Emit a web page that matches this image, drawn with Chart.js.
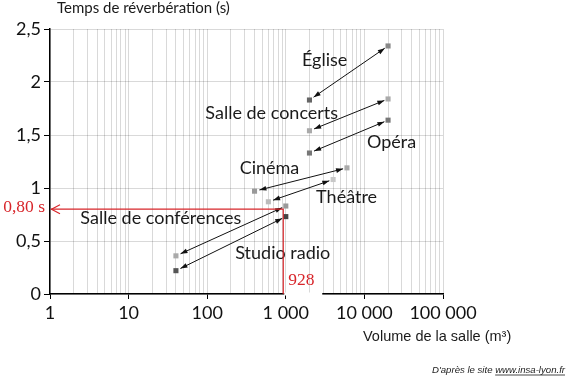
<!DOCTYPE html>
<html><head><meta charset="utf-8">
<script src="https://cdn.jsdelivr.net/npm/chart.js@4"></script>
<style>html,body{margin:0;padding:0;background:#fff}#wrap{width:568px;height:383px;position:relative}</style>
</head><body><div id="wrap"><canvas id="c"></canvas></div>
<script>
// ---- data ----
const rooms = ["Église","Salle de concerts","Opéra","Cinéma","Théâtre","Salle de conférences","Studio radio"];
const volumeMin = [2000,2000,2000,400,600,40,40];
const volumeMax = [20000,20000,20000,6000,4000,1000,1000];
const timeMin = [1.83,1.54,1.33,0.97,0.87,0.36,0.22];
const timeMax = [2.34,1.84,1.64,1.19,1.08,0.83,0.73];
const xTickValues = [1,10,100,1000,10000,100000];
const xTickLabels = ["1","10","100","1 000","10 000","100 000"];
const yTickValues = [0,0.5,1,1.5,2,2.5];
const yTickLabels = ["0","0,5","1","1,5","2","2,5"];
const refVolume = 928;
const refTime = 0.80;
const refVolumeLabel = "928";
const refTimeLabel = "0,80 s";
const yTitle = "Temps de réverbération (s)";
const xTitle = "Volume de la salle (m³)";
const sourcePrefix = "D'après le site ";
const sourceUrl = "www.insa-lyon.fr";
// label anchors (data coordinates: volume, time at baseline)
const labelVolume = [3120,662,22180,620,5940,25.7,914];
const labelTime = [2.154,1.648,1.375,1.132,0.856,0.66,0.33];

// ---- styles ----
const colorMin = ["#666","#aaa","#777","#999","#bbb","#aaa","#555"];
const colorMax = ["#888","#aaa","#777","#aaa","#c8c8c8","#999","#444"];
const RED = "#d8262b";

function arrowHead(ctx, tx, ty, ux, uy){
  const L = 7, W = 2.4;
  ctx.beginPath();
  ctx.moveTo(tx, ty);
  ctx.lineTo(tx - ux*L - uy*W, ty - uy*L + ux*W);
  ctx.lineTo(tx - ux*L + uy*W, ty - uy*L - ux*W);
  ctx.closePath();
  ctx.fill();
}

const annot = {
  id: 'annot',
  afterDatasetsDraw(chart){
    const ctx = chart.ctx, xs = chart.scales.x, ys = chart.scales.y;
    ctx.save();
    ctx.strokeStyle = '#111'; ctx.fillStyle = '#111'; ctx.lineWidth = 1;
    for (let i = 0; i < rooms.length; i++){
      const x1 = xs.getPixelForValue(volumeMax[i]), y1 = ys.getPixelForValue(timeMax[i]);
      const x2 = xs.getPixelForValue(volumeMin[i]), y2 = ys.getPixelForValue(timeMin[i]);
      const dx = x2-x1, dy = y2-y1, L = Math.hypot(dx,dy), ux = dx/L, uy = dy/L;
      const s1 = 4, s2 = 5;
      const ax = x1+ux*s1, ay = y1+uy*s1, bx = x2-ux*s2, by = y2-uy*s2;
      ctx.beginPath(); ctx.moveTo(ax, ay); ctx.lineTo(bx, by); ctx.stroke();
      arrowHead(ctx, ax, ay, -ux, -uy);
      arrowHead(ctx, bx, by, ux, uy);
    }
    ctx.fillStyle = '#1a1a1a';
    ctx.font = '18px Lato';
    ctx.textAlign = 'center'; ctx.textBaseline = 'alphabetic';
    for (let i = 0; i < rooms.length; i++){
      ctx.fillText(rooms[i], xs.getPixelForValue(labelVolume[i]), ys.getPixelForValue(labelTime[i]));
    }
    ctx.restore();
  },
  afterDraw(chart){
    const ctx = chart.ctx, xs = chart.scales.x, ys = chart.scales.y, a = chart.chartArea;
    ctx.save();
    const px = xs.getPixelForValue(refVolume), py = ys.getPixelForValue(refTime);
    ctx.fillStyle = '#fff';
    ctx.fillRect(px+1, a.bottom-1.5, 38, 3);
    ctx.strokeStyle = RED; ctx.lineWidth = 1.2;
    ctx.beginPath();
    ctx.moveTo(a.left+1, py); ctx.lineTo(px, py); ctx.lineTo(px, a.bottom);
    ctx.stroke();
    ctx.beginPath();
    ctx.moveTo(a.left+10, py-4.5); ctx.lineTo(a.left+1.5, py); ctx.lineTo(a.left+10, py+4.5);
    ctx.stroke();
    ctx.fillStyle = RED;
    ctx.font = '17.5px "Liberation Serif"';
    ctx.textAlign = 'right'; ctx.textBaseline = 'alphabetic';
    ctx.fillText(refTimeLabel, a.left-5, py+3);
    ctx.textAlign = 'left';
    ctx.fillText(refVolumeLabel, px+5, a.bottom-9);
    // titles
    ctx.fillStyle = '#1a1a1a';
    ctx.font = '15px Lato';
    ctx.fillText(yTitle, a.left+7, 13);
    ctx.font = '14.5px "Liberation Sans"';
    ctx.fillText(xTitle, 363, 340.5);
    // source
    ctx.font = 'italic 9.6px "Liberation Sans"';
    ctx.textAlign = 'left';
    const w1 = ctx.measureText(sourcePrefix).width, w2 = ctx.measureText(sourceUrl).width;
    const x0 = 565 - w1 - w2;
    ctx.fillText(sourcePrefix, x0, 373);
    ctx.fillText(sourceUrl, x0 + w1, 373);
    ctx.strokeStyle = '#1a1a1a'; ctx.lineWidth = 0.8;
    ctx.beginPath(); ctx.moveTo(x0+w1, 375); ctx.lineTo(x0+w1+w2, 375); ctx.stroke();
    ctx.restore();
  }
};

const ptsMin = volumeMin.map((v,i)=>({x:v, y:timeMin[i]}));
const ptsMax = volumeMax.map((v,i)=>({x:v, y:timeMax[i]}));

new Chart(document.getElementById('c'), {
  type: 'scatter',
  data: {
    datasets: [
      {label:'min', data: ptsMin, pointStyle:'rect', pointRadius:3.6, borderWidth:0, pointBackgroundColor: colorMin},
      {label:'max', data: ptsMax, pointStyle:'rect', pointRadius:3.6, borderWidth:0, pointBackgroundColor: colorMax}
    ]
  },
  options: {
    responsive: true, maintainAspectRatio: false, animation: false,
    layout: {padding: {top:29, right:125, bottom:0, left:0}},
    plugins: {legend:{display:false}, tooltip:{enabled:false}},
    scales: {
      x: {
        type: 'logarithmic', min: 1, max: 100000, position: 'bottom',
        afterBuildTicks: s => {
          const t = [];
          for (let k = 0; k < xTickValues.length-1; k++)
            for (let m = 1; m < 10; m++) t.push({value: xTickValues[k]*m});
          t.push({value: xTickValues[xTickValues.length-1]});
          s.ticks = t;
        },
        afterFit: s => { s.height = 89; },
        ticks: {
          autoSkip:false, maxRotation:0, padding:3, color:'#111',
          font:{family:'Lato', size:18},
          callback: v => { const i = xTickValues.indexOf(v); return i >= 0 ? xTickLabels[i] : ''; }
        },
        grid: {
          color:'rgba(0,0,0,0.15)', lineWidth:1, tickLength:5,
          tickColor: c => (c.tick && xTickValues.includes(c.tick.value)) ? '#000' : 'rgba(0,0,0,0)'
        },
        border: {color:'#000', width:1.5}
      },
      y: {
        min: 0, max: 2.5,
        afterBuildTicks: s => { s.ticks = yTickValues.map(v => ({value:v})); },
        afterFit: s => { s.width = 50; },
        ticks: {
          padding:3, color:'#111', font:{family:'Lato', size:18},
          callback: v => { const i = yTickValues.indexOf(v); return i >= 0 ? yTickLabels[i] : ''; }
        },
        grid: {color:'rgba(0,0,0,0.15)', lineWidth:1, tickLength:6, tickColor:'#000'},
        border: {color:'#000', width:1.5}
      }
    }
  },
  plugins: [annot]
});
</script></body></html>
